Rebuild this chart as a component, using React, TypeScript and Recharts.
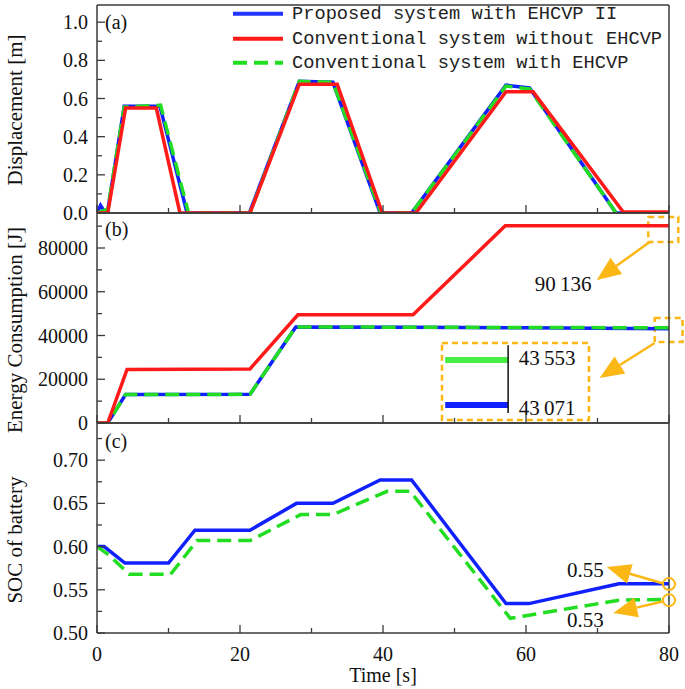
import React from "react";
import { LineChart, Line, XAxis, YAxis, ReferenceArea, ReferenceLine, ReferenceDot } from "recharts";

type Pt = { t: number; v: number };

// ---- data ----
const timeTicks = [0, 10, 20, 30, 40, 50, 60, 70, 80];
const timeLabels = [0, 20, 40, 60, 80];

const dispTicks = [0, 0.1, 0.2, 0.3, 0.4, 0.5, 0.6, 0.7, 0.8, 0.9, 1.0];
const dispLabels = [0, 0.2, 0.4, 0.6, 0.8, 1.0];
const energyTicks = [0, 10000, 20000, 30000, 40000, 50000, 60000, 70000, 80000, 90000];
const energyLabels = [0, 20000, 40000, 60000, 80000];
const socTicks = [0.5, 0.525, 0.55, 0.575, 0.6, 0.625, 0.65, 0.675, 0.7, 0.725];
const socLabels = [0.5, 0.55, 0.6, 0.65, 0.7];

const dispProposed: Pt[] = [
  { t: 0, v: 0 }, { t: 0.5, v: 0.04 }, { t: 1, v: 0.01 }, { t: 1.5, v: 0.01 }, { t: 3.8, v: 0.56 },
  { t: 8.8, v: 0.56 }, { t: 12.6, v: 0 }, { t: 21.3, v: 0 }, { t: 28.3, v: 0.69 }, { t: 33, v: 0.685 },
  { t: 39.6, v: 0 }, { t: 44, v: 0 }, { t: 57.2, v: 0.67 }, { t: 60.5, v: 0.655 }, { t: 72.6, v: 0 },
  { t: 80, v: 0 },
];
const dispWithout: Pt[] = [
  { t: 0, v: 0 }, { t: 1.5, v: 0 }, { t: 4, v: 0.55 }, { t: 8.3, v: 0.55 }, { t: 11.6, v: 0 },
  { t: 21.4, v: 0 }, { t: 28.3, v: 0.675 }, { t: 33.6, v: 0.675 }, { t: 39.9, v: 0 }, { t: 44.6, v: 0 },
  { t: 57.2, v: 0.635 }, { t: 61, v: 0.635 }, { t: 73.6, v: 0.005 }, { t: 80, v: 0.005 },
];
const dispWith: Pt[] = [
  { t: 0, v: 0 }, { t: 1.5, v: 0.02 }, { t: 3.8, v: 0.555 }, { t: 8.9, v: 0.565 }, { t: 12.8, v: 0 },
  { t: 21.4, v: 0 }, { t: 28.3, v: 0.69 }, { t: 33, v: 0.685 }, { t: 39.7, v: 0 }, { t: 44, v: 0 },
  { t: 57.2, v: 0.665 }, { t: 60.5, v: 0.65 }, { t: 72.6, v: 0 }, { t: 80, v: 0 },
];

const energyProposed: Pt[] = [
  { t: 0, v: 0 }, { t: 1.5, v: 0 }, { t: 4, v: 13000 }, { t: 21.4, v: 13100 }, { t: 27.8, v: 43900 },
  { t: 44, v: 43800 }, { t: 60, v: 43500 }, { t: 80, v: 43071 },
];
const energyWithout: Pt[] = [
  { t: 0, v: 0 }, { t: 1.5, v: 0 }, { t: 4.2, v: 24500 }, { t: 21.4, v: 24700 }, { t: 28.1, v: 49500 },
  { t: 44.2, v: 49500 }, { t: 57.1, v: 90136 }, { t: 80, v: 90136 },
];
const energyWith: Pt[] = [
  { t: 0, v: 0 }, { t: 1.5, v: 0 }, { t: 4, v: 13000 }, { t: 21.4, v: 13100 }, { t: 27.8, v: 43900 },
  { t: 44, v: 43800 }, { t: 60, v: 43650 }, { t: 80, v: 43553 },
];

const socProposed: Pt[] = [
  { t: 0, v: 0.6 }, { t: 1, v: 0.6 }, { t: 3.9, v: 0.581 }, { t: 10, v: 0.581 }, { t: 13.7, v: 0.619 },
  { t: 21.4, v: 0.619 }, { t: 27.9, v: 0.65 }, { t: 33, v: 0.65 }, { t: 39.6, v: 0.677 }, { t: 44, v: 0.677 },
  { t: 57.2, v: 0.534 }, { t: 60.4, v: 0.534 }, { t: 73, v: 0.557 }, { t: 80, v: 0.557 },
];
const socWith: Pt[] = [
  { t: 0, v: 0.6 }, { t: 1.7, v: 0.59 }, { t: 4.5, v: 0.568 }, { t: 10.3, v: 0.568 }, { t: 14, v: 0.607 },
  { t: 21.4, v: 0.607 }, { t: 28.5, v: 0.637 }, { t: 33, v: 0.637 }, { t: 40.6, v: 0.664 }, { t: 43.8, v: 0.664 },
  { t: 57.8, v: 0.517 }, { t: 60, v: 0.52 }, { t: 73, v: 0.538 }, { t: 80, v: 0.539 },
];

const legendItems = [
  { name: "Proposed system with EHCVP II", color: "#2233ff", dash: "" },
  { name: "Conventional system without EHCVP", color: "#ff1a1a", dash: "" },
  { name: "Conventional system with EHCVP", color: "#22dd22", dash: "14 7" },
];

// ---- styles ----
const BLUE = "#1020ff";
const RED = "#ff1a1a";
const GREEN = "#22dd22";
const ORANGE = "#fbb714";
const INK = "#3a3a3a";
const SERIF = "'Liberation Serif', 'Times New Roman', serif";
const W = 685;
const H = 689;
const LW = 3.5;

const tickText = { fontFamily: SERIF, fontSize: 20, fill: "#111" };

const near = (list: number[], v: number) => list.some((l) => Math.abs(l - v) < 1e-9);

const makeXTick = (withLabels: boolean) => (props: any) => {
  const { x, y, payload } = props;
  const major = near(timeLabels, payload.value);
  return (
    <g>
      <line x1={x} x2={x} y1={y} y2={y - (major ? 8 : 5)} stroke={INK} strokeWidth={1.3} />
      {withLabels && major && (
        <text x={x} y={y + 28} textAnchor="middle" {...tickText}>
          {payload.value}
        </text>
      )}
    </g>
  );
};

const makeYTick = (labels: number[], fmt: (v: number) => string) => (props: any) => {
  const { x, y, payload } = props;
  const major = near(labels, payload.value);
  return (
    <g>
      <line x1={x} x2={x + (major ? 8 : 5)} y1={y} y2={y} stroke={INK} strokeWidth={1.3} />
      {major && (
        <text x={x - 9} y={y} dy="0.35em" textAnchor="end" {...tickText}>
          {fmt(payload.value)}
        </text>
      )}
    </g>
  );
};

const Arrow = (props: any) => {
  const { x1, y1, x2, y2 } = props;
  const a = Math.atan2(y2 - y1, x2 - x1);
  const L = 24;
  const hw = 10;
  const bx = x2 - L * Math.cos(a);
  const by = y2 - L * Math.sin(a);
  const px = -Math.sin(a) * hw;
  const py = Math.cos(a) * hw;
  return (
    <g>
      <line x1={x1} y1={y1} x2={bx} y2={by} stroke={ORANGE} strokeWidth={2.5} />
      <polygon points={`${x2},${y2} ${bx + px},${by + py} ${bx - px},${by - py}`} fill={ORANGE} />
    </g>
  );
};

const makeNote = (txt: string, anchor: string = "middle") => (props: any) => (
  <text x={props.cx} y={props.cy} dy="0.35em" textAnchor={anchor} fontFamily={SERIF} fontSize={21} fill="#111">
    {txt}
  </text>
);

const frameAxes = (domain: [number, number]) => [
  <XAxis key="tx" xAxisId="top" orientation="top" type="number" domain={[0, 80]} height={1} tick={false} tickLine={false} axisLine={{ stroke: INK, strokeWidth: 1.5 }} />,
  <YAxis key="ry" yAxisId="right" orientation="right" type="number" domain={domain} width={1} tick={false} tickLine={false} axisLine={{ stroke: INK, strokeWidth: 1.5 }} />,
];

const abs = (left: number, top: number): React.CSSProperties => ({ position: "absolute", left, top });

const YTitle = ({ cx, cy, text }: { cx: number; cy: number; text: string }) => (
  <div
    style={{
      position: "absolute",
      left: cx,
      top: cy,
      transform: "translate(-50%, -50%) rotate(-90deg)",
      whiteSpace: "nowrap",
      fontFamily: SERIF,
      fontSize: 21,
      color: "#111",
      lineHeight: 1,
    }}
  >
    {text}
  </div>
);

const PanelTag = ({ x, y, text }: { x: number; y: number; text: string }) => (
  <div style={{ position: "absolute", left: x, top: y, transform: "translateY(-50%)", fontFamily: SERIF, fontSize: 20, color: "#111", lineHeight: 1 }}>
    {text}
  </div>
);

const xAxisProps = {
  dataKey: "t",
  type: "number" as const,
  domain: [0, 80],
  ticks: timeTicks,
  interval: 0 as const,
  height: 1,
  tickSize: 0,
  tickMargin: 0,
  tickLine: false,
  axisLine: { stroke: INK, strokeWidth: 1.5 },
  allowDataOverflow: true,
};

const yAxisCommon = {
  type: "number" as const,
  width: 97,
  tickSize: 0,
  tickMargin: 0,
  tickLine: false,
  interval: 0 as const,
  axisLine: { stroke: INK, strokeWidth: 1.5 },
  allowDataOverflow: true,
};

// plot area edges (page pixels): left 97, right 669
const margins = (top: number, bottom: number) => ({ top: top - 1, right: W - 669 - 1, bottom: H - bottom - 1, left: 0 });

export default function App() {
  return (
    <div style={{ position: "absolute", left: 0, top: 0, width: W, height: H, background: "#fff", overflow: "hidden" }}>
      {/* (a) displacement */}
      <div style={abs(0, 0)}>
        <LineChart width={W} height={H} margin={margins(5, 213)}>
          <XAxis {...xAxisProps} tick={makeXTick(false)} />
          <YAxis {...yAxisCommon} domain={[0, 1.09]} ticks={dispTicks} tick={makeYTick(dispLabels, (v) => v.toFixed(1))} />
          {frameAxes([0, 1.09])}
          <Line data={dispProposed} dataKey="v" stroke={BLUE} strokeWidth={LW} dot={false} isAnimationActive={false} />
          <Line data={dispWith} dataKey="v" stroke={GREEN} strokeWidth={LW} strokeDasharray="14 7" dot={false} isAnimationActive={false} />
          <Line data={dispWithout} dataKey="v" stroke={RED} strokeWidth={LW} dot={false} isAnimationActive={false} />
        </LineChart>
      </div>

      {/* (b) energy */}
      <div style={abs(0, 0)}>
        <LineChart width={W} height={H} margin={margins(213, 423)}>
          <XAxis {...xAxisProps} tick={makeXTick(false)} />
          <YAxis {...yAxisCommon} domain={[0, 96000]} ticks={energyTicks} tick={makeYTick(energyLabels, (v) => String(v))} />
          {frameAxes([0, 96000])}
          <Line data={energyProposed} dataKey="v" stroke={BLUE} strokeWidth={LW} dot={false} isAnimationActive={false} />
          <Line data={energyWith} dataKey="v" stroke={GREEN} strokeWidth={LW} strokeDasharray="14 7" dot={false} isAnimationActive={false} />
          <Line data={energyWithout} dataKey="v" stroke={RED} strokeWidth={LW} dot={false} isAnimationActive={false} />
          <ReferenceArea x1={77.1} x2={81.3} y1={82700} y2={94200} ifOverflow="visible" fill="none" fillOpacity={0} stroke={ORANGE} strokeWidth={2.5} strokeDasharray="6 4" />
          <ReferenceLine segment={[{ x: 77.3, y: 82700 }, { x: 69.9, y: 65400 }]} ifOverflow="visible" shape={Arrow} />
          <ReferenceDot x={65.2} y={63800} r={0} ifOverflow="visible" shape={makeNote("90\u2009136")} />
          <ReferenceArea x1={78.0} x2={81.9} y1={37000} y2={48000} ifOverflow="visible" fill="none" fillOpacity={0} stroke={ORANGE} strokeWidth={2.5} strokeDasharray="6 4" />
          <ReferenceLine segment={[{ x: 78.0, y: 36600 }, { x: 70.3, y: 20600 }]} ifOverflow="visible" shape={Arrow} />
          <ReferenceArea x1={48.25} x2={68.8} y1={1400} y2={36600} ifOverflow="visible" fill="none" fillOpacity={0} stroke={ORANGE} strokeWidth={2.5} strokeDasharray="6 4" />
          <ReferenceLine segment={[{ x: 48.7, y: 28800 }, { x: 57.5, y: 28800 }]} stroke="#44ee44" strokeWidth={6} ifOverflow="visible" />
          <ReferenceLine segment={[{ x: 48.7, y: 8200 }, { x: 57.5, y: 8200 }]} stroke={BLUE} strokeWidth={6} ifOverflow="visible" />
          <ReferenceLine segment={[{ x: 57.5, y: 35600 }, { x: 57.5, y: 4600 }]} stroke="#111" strokeWidth={1.5} ifOverflow="visible" />
          <ReferenceDot x={59.0} y={29800} r={0} ifOverflow="visible" shape={makeNote("43\u2009553", "start")} />
          <ReferenceDot x={59.0} y={7200} r={0} ifOverflow="visible" shape={makeNote("43\u2009071", "start")} />
        </LineChart>
      </div>

      {/* (c) SOC */}
      <div style={abs(0, 0)}>
        <LineChart width={W} height={H} margin={margins(423, 633)}>
          <XAxis {...xAxisProps} tick={makeXTick(true)} />
          <YAxis {...yAxisCommon} domain={[0.5, 0.743]} ticks={socTicks} tick={makeYTick(socLabels, (v) => v.toFixed(2))} />
          {frameAxes([0.5, 0.743])}
          <Line data={socProposed} dataKey="v" stroke={BLUE} strokeWidth={LW} dot={false} isAnimationActive={false} />
          <Line data={socWith} dataKey="v" stroke={GREEN} strokeWidth={LW} strokeDasharray="14 7" dot={false} isAnimationActive={false} />
          <ReferenceDot x={80} y={0.5566} r={6} ifOverflow="visible" fill="none" stroke={ORANGE} strokeWidth={2} />
          <ReferenceDot x={80} y={0.538} r={6} ifOverflow="visible" fill="none" stroke={ORANGE} strokeWidth={2} />
          <ReferenceLine segment={[{ x: 79.1, y: 0.5575 }, { x: 71.3, y: 0.5763 }]} ifOverflow="visible" shape={Arrow} />
          <ReferenceLine segment={[{ x: 79.1, y: 0.5365 }, { x: 72.2, y: 0.523 }]} ifOverflow="visible" shape={Arrow} />
          <ReferenceDot x={68.3} y={0.5728} r={0} ifOverflow="visible" shape={makeNote("0.55")} />
          <ReferenceDot x={68.3} y={0.515} r={0} ifOverflow="visible" shape={makeNote("0.53")} />
        </LineChart>
      </div>

      {/* legend */}
      {legendItems.map((it, i) => (
        <div key={it.name} style={{ position: "absolute", left: 233, top: 14 + i * 24.5, transform: "translateY(-50%)", display: "flex", alignItems: "center" }}>
          <svg width={52} height={8} style={{ display: "block" }}>
            <line x1={0} x2={50} y1={4} y2={4} stroke={it.color} strokeWidth={4} strokeDasharray={it.dash || undefined} />
          </svg>
          <span style={{ marginLeft: 7, fontFamily: "'Liberation Mono', 'DejaVu Sans Mono', monospace", fontSize: 18.7, color: "#222", whiteSpace: "nowrap", lineHeight: 1 }}>
            {it.name}
          </span>
        </div>
      ))}

      <PanelTag x={105} y={22} text="(a)" />
      <PanelTag x={105} y={229} text="(b)" />
      <PanelTag x={105} y={441} text="(c)" />

      <YTitle cx={15} cy={110} text="Displacement [m]" />
      <YTitle cx={15} cy={330} text="Energy Consumption [J]" />
      <YTitle cx={15} cy={540} text="SOC of battery" />

      <div style={{ position: "absolute", left: 383, top: 675, transform: "translate(-50%, -50%)", fontFamily: SERIF, fontSize: 20, color: "#111", whiteSpace: "nowrap", lineHeight: 1 }}>
        Time [s]
      </div>
    </div>
  );
}
